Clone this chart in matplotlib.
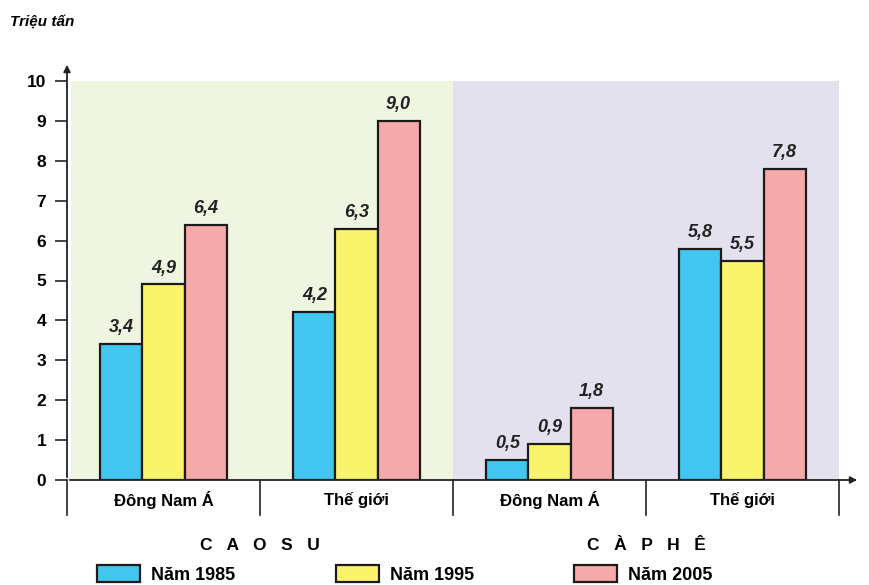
import numpy as np
import matplotlib.pyplot as plt

plt.rcParams['font.family'] = ['Liberation Sans Narrow', 'Liberation Sans', 'DejaVu Sans']

groups = ["Đông Nam Á", "Thế giới", "Đông Nam Á", "Thế giới"]
sections = ["CAO SU", "CÀ PHÊ"]
years = ["Năm 1985", "Năm 1995", "Năm 2005"]
v1985 = [3.4, 4.2, 0.5, 5.8]
v1995 = [4.9, 6.3, 0.9, 5.5]
v2005 = [6.4, 9.0, 1.8, 7.8]
yticks = [0, 1, 2, 3, 4, 5, 6, 7, 8, 9, 10]

colors = ["#42c6f0", "#faf46c", "#f5a9aa"]
edge = "#1e1a1a"

fig = plt.figure(figsize=(8.69, 5.85), dpi=100)
ax = fig.add_axes([67/869, 105/585, 793/869, 418/585])
ax.set_xlim(0, 793/193)
ax.set_ylim(0, 418/39.9)
ytop = ax.get_ylim()[1]

# background panels
ax.axvspan(0.02, 2.0, ymin=0, ymax=10/ytop, color="#eef5e1", lw=0, zorder=0)
ax.axvspan(2.0, 4.0, ymin=0, ymax=10/ytop, color="#e3e1ee", lw=0, zorder=0)

x = np.arange(len(groups)) + 0.5
w = 0.218
for i, vals in enumerate([v1985, v1995, v2005]):
    bars = ax.bar(x + (i - 1) * w, vals, w, color=colors[i], edgecolor=edge,
                  linewidth=1.6, label=years[i], zorder=3)
    for b, v in zip(bars, vals):
        ax.text(b.get_x() + b.get_width()/2, v + 0.2, f"{v:.1f}".replace(".", ","),
                ha="center", va="bottom", fontsize=13, fontweight="bold",
                style="italic", color="#222")

for s in ax.spines.values():
    s.set_visible(False)

# axes with arrows
ax.annotate("", xy=(0, ytop), xytext=(0, 0),
            arrowprops=dict(arrowstyle="-|>", color="#222", lw=1.3,
                            mutation_scale=10), annotation_clip=False, zorder=5)
ax.annotate("", xy=(ax.get_xlim()[1], 0), xytext=(0, 0),
            arrowprops=dict(arrowstyle="-|>", color="#222", lw=1.3,
                            mutation_scale=10), annotation_clip=False, zorder=5)

ax.set_yticks(yticks)
ax.set_yticklabels([str(t) for t in yticks], fontsize=12.5, fontweight="bold")
ax.tick_params(axis="y", length=9, width=1.2, color="#222", pad=6)
ax.set_xticks([])

# separators and labels below the axis
for sx in range(5):
    ax.plot([sx, sx], [0, -0.88], color="#222", lw=1.2, clip_on=False)
for gx, g in zip(x, groups):
    ax.text(gx, -0.5, g, ha="center", va="center", fontsize=12, fontweight="bold")
for k, s in enumerate(sections):
    ax.text(1.0 + 2 * k, -1.63, "   ".join(s.replace(" ", "")), ha="center",
            va="center", fontsize=12.5, fontweight="bold")

fig.text(10/869, 1 - 22/585, "Triệu tấn", fontsize=11, fontweight="bold",
         style="italic", va="center", ha="left")

leg = ax.legend(loc="upper left", bbox_to_anchor=(97/869, 1 - 565/585),
                bbox_transform=fig.transFigure, ncol=3, frameon=False,
                fontsize=13, handlelength=2.4, handleheight=1.1,
                handletextpad=0.6, columnspacing=5.55, borderpad=0,
                borderaxespad=0)
for t in leg.get_texts():
    t.set_fontweight("bold")

fig.savefig("out.png", dpi=100)
